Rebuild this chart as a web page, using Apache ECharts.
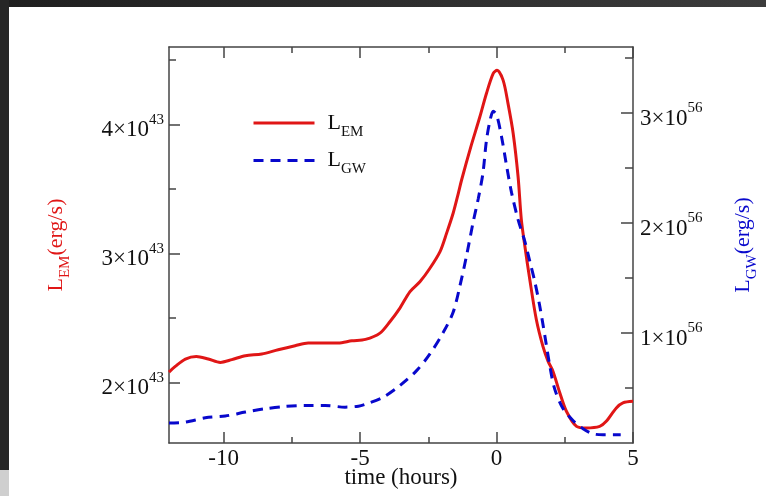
<!DOCTYPE html>
<html><head><meta charset="utf-8">
<script src="https://cdn.jsdelivr.net/npm/echarts@6/dist/echarts.min.js"></script>
<style>html,body{margin:0;padding:0;background:#fff}#c{width:766px;height:496px}</style>
</head><body><div id="c"></div>
<script>
// time in hours
const emTime  = [-12.0,-11.77,-11.4,-11.0,-10.56,-10.12,-9.7,-9.2,-8.6,-8.0,-7.38,-6.9,-6.4,-5.8,-5.3,-4.8,-4.27,-3.9,-3.54,-3.17,-2.8,-2.44,-2.07,-1.83,-1.59,-1.4,-1.28,-0.95,-0.61,-0.37,-0.12,0.02,0.24,0.42,0.61,0.79,0.91,1.04,1.22,1.46,1.70,1.89,2.07,2.32,2.56,2.93,3.29,3.78,4.02,4.39,4.63,5.0];
// L_EM in units of 1e43 erg/s
const emValue = [2.08,2.124,2.181,2.201,2.181,2.155,2.176,2.207,2.22,2.253,2.284,2.305,2.305,2.305,2.322,2.333,2.382,2.472,2.576,2.704,2.782,2.885,3.014,3.156,3.311,3.466,3.569,3.82,4.059,4.24,4.395,4.42,4.343,4.163,3.93,3.594,3.259,3.053,2.795,2.485,2.279,2.163,2.085,1.918,1.776,1.659,1.647,1.659,1.698,1.802,1.841,1.853];
const gwTime  = [-12.0,-11.4,-10.67,-9.94,-9.2,-8.48,-7.75,-7.0,-6.28,-5.55,-5.06,-4.76,-4.15,-3.54,-2.93,-2.44,-1.95,-1.59,-1.34,-1.10,-0.86,-0.67,-0.5,-0.37,-0.24,-0.12,0.0,0.18,0.37,0.55,0.79,1.04,1.22,1.40,1.58,1.77,1.95,2.13,2.44,2.80,3.17,3.53,3.90,4.55];
// L_GW in units of 1e56 erg/s
const gwValue = [0.181,0.19,0.229,0.245,0.281,0.311,0.332,0.341,0.341,0.326,0.335,0.356,0.417,0.522,0.658,0.81,1.006,1.188,1.429,1.701,2.004,2.22,2.45,2.75,2.93,3.015,2.985,2.789,2.517,2.276,2.03,1.83,1.65,1.47,1.25,0.976,0.704,0.492,0.311,0.205,0.13,0.084,0.075,0.075];

const xMajorTicks = [-10,-5,0,5];
const xMinorTicks = [-7.5,-2.5,2.5];
const emMajorTicks = [2,3,4];
const emMinorTicks = [2.5,3.5,4.5];
const gwMajorTicks = [1,2,3];
const gwMinorTicks = [0.5,1.5,2.5,3.5];
const emExp = '43', gwExp = '56';
const seriesNames = ['LEM','LGW'];
const seriesSubs = {LEM:'EM', LGW:'GW'};

const SERIF = "'Liberation Serif','Times New Roman',serif";
const AX = '#444';
const RED = '#e01616';
const BLUE = '#0808cc';

const supRich = {
  b: {fontFamily: SERIF, fontSize: 23, color: '#111', padding: [12,0,0,0]},
  sup: {fontFamily: SERIF, fontSize: 15, color: '#111', padding: [5,0,14,0]}
};
function subRich(color, lead) {
  return {
    l: {fontFamily: SERIF, fontSize: 22, color: color, padding: [0,0,0,lead || 0]},
    a: {fontFamily: SERIF, fontSize: 22, color: color},
    s: {fontFamily: SERIF, fontSize: 15, color: color, padding: [18,0,0,0]}
  };
}

function xAx(pos, ticks, len, major) {
  return {
    type: 'value', position: pos, min: -12, max: 5,
    axisLine: {show: major, onZero: false, lineStyle: {color: AX, width: 1.5}},
    axisTick: {show: true, inside: true, length: len, customValues: ticks, lineStyle: {color: AX, width: 1.5}},
    axisLabel: {show: false},
    splitLine: {show: false}
  };
}
function yAx(pos, min, max, ticks, len, major) {
  return {
    type: 'value', position: pos, min: min, max: max,
    axisLine: {show: major, onZero: false, lineStyle: {color: AX, width: 1.5}},
    axisTick: {show: true, inside: true, length: len, customValues: ticks, lineStyle: {color: AX, width: 1.5}},
    axisLabel: {show: false},
    splitLine: {show: false}
  };
}

const xBottom = xAx('bottom', xMajorTicks, 11, true);
xBottom.axisLabel = {show: true, customValues: xMajorTicks, margin: 4, fontFamily: SERIF, fontSize: 23, color: '#111'};
xBottom.name = 'time (hours)';
xBottom.nameLocation = 'middle';
xBottom.nameGap = 23;
xBottom.nameMoveOverlap = false;
xBottom.nameTextStyle = {fontFamily: SERIF, fontSize: 23, color: '#111'};

const yLeft = yAx('left', 1.53, 4.6, emMajorTicks, 11, true);
yLeft.axisLabel = {show: true, customValues: emMajorTicks, margin: 5,
  formatter: v => `{b|${v}×10}{sup|${emExp}}`, rich: supRich};
yLeft.name = '{a|L}{s|EM}{a|(erg/s)}';
yLeft.nameLocation = 'middle';
yLeft.nameRotate = 90;
yLeft.nameGap = 96;
yLeft.nameMoveOverlap = false;
yLeft.nameTextStyle = {rich: subRich(RED)};

const yRight = yAx('right', 0, 3.6, gwMajorTicks, 12, true);
yRight.axisLabel = {show: true, customValues: gwMajorTicks, margin: 7,
  formatter: v => `{b|${v}×10}{sup|${gwExp}}`, rich: supRich};
yRight.name = '{a|L}{s|GW}{a|(erg/s)}';
yRight.nameLocation = 'middle';
yRight.nameRotate = 90;
yRight.nameGap = 94;
yRight.nameMoveOverlap = false;
yRight.nameTextStyle = {rich: subRich(BLUE)};

const option = {
  animation: false,
  backgroundColor: '#fff',
  grid: {left: 169, right: 133, top: 47, bottom: 53, containLabel: false, outerBoundsMode: 'none'},
  xAxis: [
    xBottom,
    xAx('bottom', xMinorTicks, 6, false),
    xAx('top', xMajorTicks, 11, true),
    xAx('top', xMinorTicks, 6, false)
  ],
  yAxis: [
    yLeft,
    yRight,
    yAx('left', 1.53, 4.6, emMinorTicks, 7, false),
    yAx('right', 0, 3.6, gwMinorTicks, 8, false)
  ],
  legend: {
    data: seriesNames,
    orient: 'vertical',
    left: 252, top: 112, padding: 0,
    itemWidth: 61, itemHeight: 14, itemGap: 10,
    itemStyle: {opacity: 0},
    lineStyle: {width: 3},
    formatter: n => `{l|L}{s|${seriesSubs[n]}}`,
    textStyle: {rich: subRich('#111', 8)}
  },
  graphic: [
    {type: 'rect', shape: {x: 0, y: 0, width: 766, height: 7}, silent: true,
     style: {fill: new echarts.graphic.LinearGradient(0, 0, 1, 0, [{offset: 0, color: '#1f1f1f'}, {offset: 1, color: '#3c3c3c'}])}},
    {type: 'rect', shape: {x: 0, y: 0, width: 9, height: 470}, silent: true, style: {fill: '#262626'}},
    {type: 'rect', shape: {x: 0, y: 470, width: 9, height: 26}, silent: true, style: {fill: '#cfcfcf'}}
  ],
  series: [
    {name: 'LEM', type: 'line', xAxisIndex: 0, yAxisIndex: 0, symbol: 'none', smooth: 0.3,
     data: emTime.map((t, i) => [t, emValue[i]]),
     lineStyle: {color: RED, width: 3}, itemStyle: {color: RED}},
    {name: 'LGW', type: 'line', xAxisIndex: 0, yAxisIndex: 1, symbol: 'none', smooth: 0.3,
     data: gwTime.map((t, i) => [t, gwValue[i]]),
     lineStyle: {color: BLUE, width: 3, type: [10, 7]}, itemStyle: {color: BLUE}}
  ]
};
echarts.init(document.getElementById('c'), null, {renderer: 'canvas'}).setOption(option);
</script></body></html>
